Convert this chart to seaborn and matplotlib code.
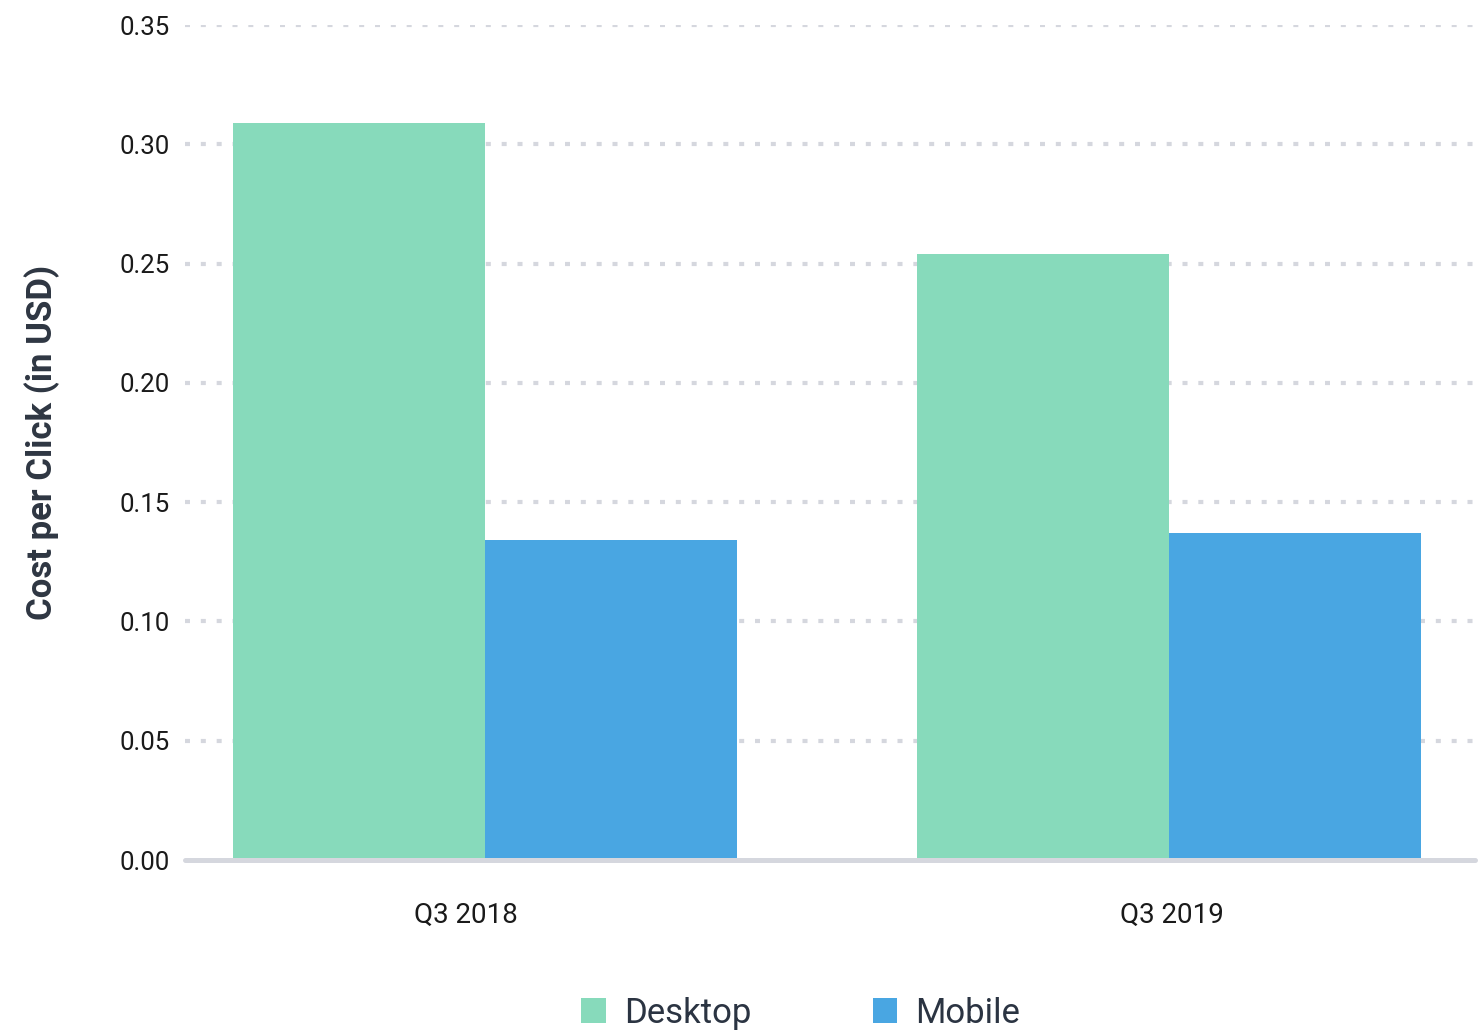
import matplotlib
matplotlib.use("Agg")
import matplotlib.pyplot as plt
import seaborn as sns
import pandas as pd
from matplotlib.patches import Patch

quarters = ["Q3 2018", "Q3 2019"]
devices = ["Desktop", "Mobile"]
desktop = [0.309, 0.254]
mobile = [0.134, 0.137]
yticks = [0.00, 0.05, 0.10, 0.15, 0.20, 0.25, 0.30, 0.35]

df = pd.DataFrame({
    "quarter": quarters * 2,
    "device": ["Desktop"] * len(quarters) + ["Mobile"] * len(quarters),
    "cpc": desktop + mobile,
})

colors = {"Desktop": "#87dabb", "Mobile": "#49a6e2"}

sns.set_style("white")
plt.rcParams["font.family"] = ["Roboto", "DejaVu Sans"]

fig = plt.figure(figsize=(14.8, 10.3), dpi=100)
ax = fig.add_axes([0.125, 0.165, 0.8716, 0.8107])

sns.barplot(data=df, x="quarter", y="cpc", hue="device", hue_order=devices,
            palette=colors, width=0.737, gap=0, saturation=1, ax=ax,
            legend=False, edgecolor="none", linewidth=0)

ax.set_xlim(-0.439, 1.448)
ax.set_ylim(0, 0.35)
ax.set_yticks(yticks)
ax.set_yticklabels([f"{v:.2f}" for v in yticks])
ax.set_xticks([-0.028, 1.004])
ax.set_xticklabels(quarters)

for v in yticks[1:]:
    ax.axhline(v, color="#d5d7de", linewidth=3.0, linestyle=(0, (1.2, 2.6)),
               dash_capstyle="butt", zorder=0)
ax.axhline(0, color="#d5d7de", linewidth=3.6, zorder=3, clip_on=False)

for s in ax.spines.values():
    s.set_visible(False)

ax.tick_params(axis="y", length=0, pad=11, labelsize=18.5, labelcolor="#1a1a1a")
ax.tick_params(axis="x", length=0, pad=30, labelsize=20, labelcolor="#1a1a1a")
ax.set_xlabel("")
ax.set_ylabel("Cost per Click (in USD)", fontsize=25, fontweight="bold",
              color="#2e3642", labelpad=0)
ax.yaxis.set_label_coords(-0.097, 0.5)

handles = [Patch(facecolor=colors[d], edgecolor="none", label=d) for d in devices]
fig.legend(handles=handles, loc="center", bbox_to_anchor=(0.541, 0.0165),
           ncol=2, frameon=False, fontsize=25, labelcolor="#2b3442",
           handlelength=0.7, handleheight=0.7, handletextpad=0.52,
           columnspacing=3.5)

fig.savefig("out.png", dpi=100)
